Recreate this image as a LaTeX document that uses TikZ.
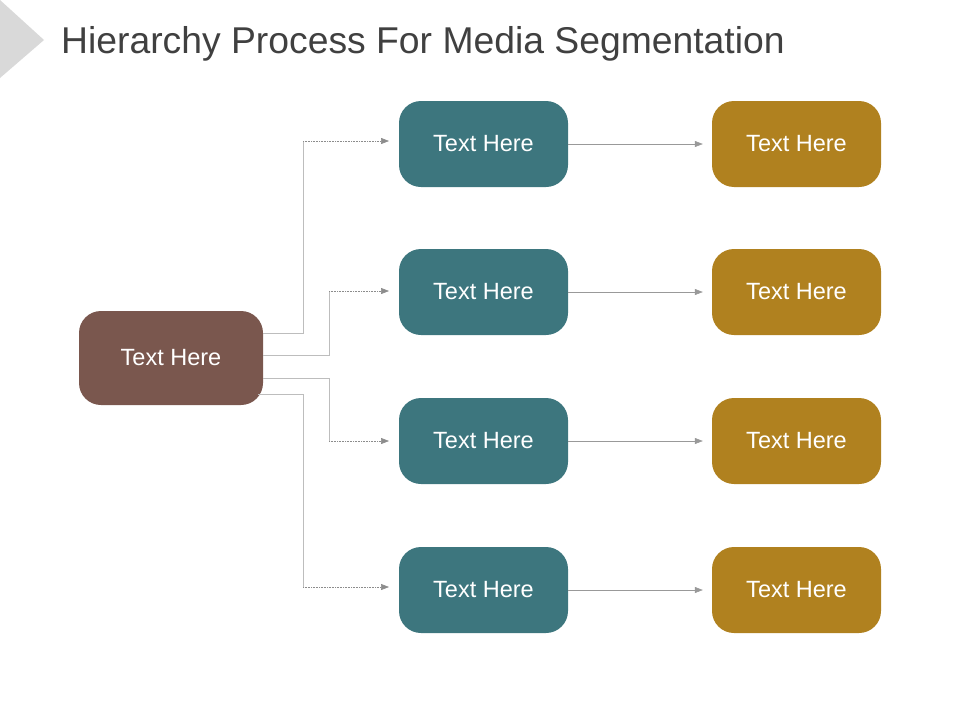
\documentclass[tikz,border=0pt]{standalone}
\usepackage{fontspec}
\setmainfont{Liberation Sans}
\usetikzlibrary{arrows.meta}
\definecolor{brn}{HTML}{7A574E}
\definecolor{tl}{HTML}{3D767E}
\definecolor{gd}{HTML}{B0811F}
\definecolor{ln}{HTML}{BDBDBD}
\begin{document}
\begin{tikzpicture}[x=1pt,y=-1pt,
 box/.style={rounded corners=22pt,minimum width=169pt,minimum height=86pt,text=white,font=\fontsize{23.5}{28}\selectfont,inner sep=0pt},
 con/.style={draw=ln,line width=0.8pt},
 arr/.style={draw=gray!90,line width=0.6pt,densely dotted,-{Triangle[length=8pt,width=6pt]}},
 arr2/.style={draw=gray!80,line width=0.5pt,-{Triangle[length=8pt,width=6pt]}}]
\useasboundingbox (0,0) rectangle (960,720);
\fill[gray!30] (0,0) -- (44,40) -- (0,78) -- cycle;
\node[anchor=base west,text=black!75,font=\fontsize{37.3}{44}\selectfont,inner sep=0pt] (title) at (61,53) {Hierarchy Process For Media Segmentation};
\node[box,fill=brn,minimum width=184pt,minimum height=94pt] (L) at (171,358) {Text Here};
\foreach \i/\y in {1/144,2/292,3/441,4/590}{
 \node[box,fill=tl] (T\i) at (483.5,\y) {Text Here};
 \node[box,fill=gd] (G\i) at (796.5,\y) {Text Here};
 \draw[arr2] (T\i.east) -- ([xshift=-9pt]G\i.west);
}
\coordinate (a1) at (263,333); \coordinate (a2) at (263,355);
\coordinate (a3) at (263,378); \coordinate (a4) at (258,394);
\coordinate (e1) at (389,141); \coordinate (e2) at (389,291);
\coordinate (e3) at (389,441); \coordinate (e4) at (389,587);
\draw[con] (a1) -- (303,333) -- (303,141);
\draw[arr] (303,141) -- (e1);
\draw[con] (a2) -- (329,355) -- (329,291);
\draw[arr] (329,291) -- (e2);
\draw[con] (a3) -- (329,378) -- (329,441);
\draw[arr] (329,441) -- (e3);
\draw[con] (a4) -- (303,394) -- (303,587);
\draw[arr] (303,587) -- (e4);
\end{tikzpicture}
\end{document}
